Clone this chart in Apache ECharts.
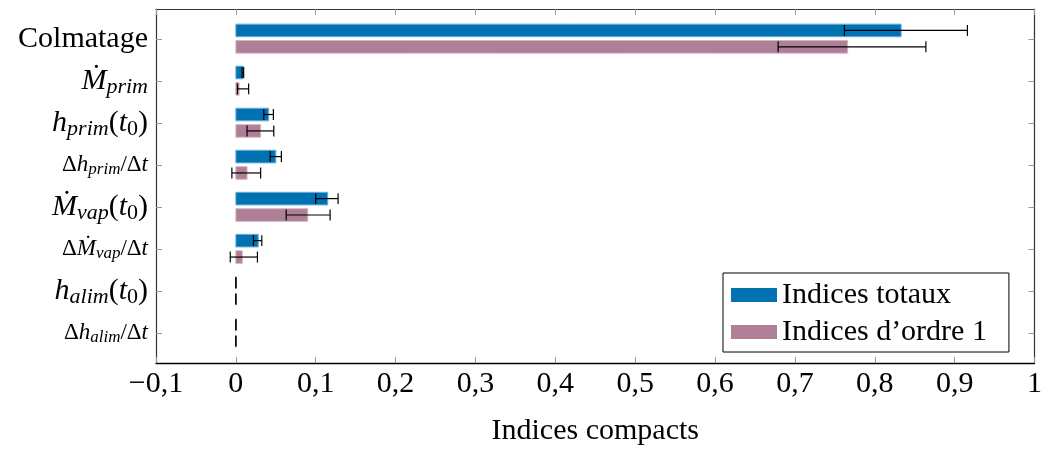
<!DOCTYPE html>
<html>
<head>
<meta charset="utf-8">
<script src="https://cdn.jsdelivr.net/npm/echarts@6/dist/echarts.min.js"></script>
<style>
  html, body { margin: 0; padding: 0; background: #fff; }
  #chart { width: 1045px; height: 451px; }
</style>
</head>
<body>
<div id="chart"></div>
<script>
// categories, top to bottom (rich-text labels)
var categories = [
  '{n|Colmatage}',
  '{i|Ṁ}{s|prim}',
  '{i|h}{s|prim}{n|(}{i|t}{z|0}{n|)}',
  '{sn|Δ}{si|h}{ss|prim}{sn|/Δ}{si|t}',
  '{i|Ṁ}{s|vap}{n|(}{i|t}{z|0}{n|)}',
  '{sn|Δ}{si|Ṁ}{ss|vap}{sn|/Δ}{si|t}',
  '{i|h}{s|alim}{n|(}{i|t}{z|0}{n|)}',
  '{sn|Δ}{si|h}{ss|alim}{sn|/Δ}{si|t}'
];
// indices totaux + intervalle
var totalIdx  = [0.833, 0.009,  0.041, 0.050, 0.115, 0.028,  0, 0];
var totalLow  = [0.762, 0.0078, 0.035, 0.043, 0.100, 0.022,  0, 0];
var totalHigh = [0.916, 0.0098, 0.047, 0.057, 0.128, 0.0325, 0, 0];
// indices d'ordre 1 + intervalle
var firstIdx  = [0.766, 0.004, 0.031,  0.014,  0.090, 0.008,  0, 0];
var firstLow  = [0.679, 0.002, 0.014,  -0.005, 0.063, -0.007, 0, 0];
var firstHigh = [0.864, 0.016, 0.0475, 0.031,  0.118, 0.027,  0, 0];

var FONT = '"Liberation Serif", "DejaVu Serif", serif';

function makeRender(offset, fill, stroke) {
  return function (params, api) {
    var cat = api.value(0);
    var unit = api.size([0, 1])[1];
    var base = api.coord([0, cat]);
    var yc = base[1] + offset * unit;
    var x1 = api.coord([api.value(1), cat])[0];
    var xl = api.coord([api.value(2), cat])[0];
    var xh = api.coord([api.value(3), cat])[0];
    var h = 0.3 * unit;
    var c = 0.13 * unit;
    var ls = { stroke: '#000', lineWidth: 1.2 };
    return {
      type: 'group',
      children: [
        { type: 'rect', shape: { x: base[0], y: yc - h / 2, width: x1 - base[0], height: h },
          style: { fill: fill, stroke: stroke, lineWidth: 1 } },
        { type: 'line', shape: { x1: xl, y1: yc, x2: xh, y2: yc }, style: ls },
        { type: 'line', shape: { x1: xl, y1: yc - c, x2: xl, y2: yc + c }, style: ls },
        { type: 'line', shape: { x1: xh, y1: yc - c, x2: xh, y2: yc + c }, style: ls }
      ]
    };
  };
}

function fmtX(v) {
  var r = Math.round(v * 10) / 10;
  var s = Math.abs(r).toString().replace('.', ',');
  return (r < 0 ? '\u2212' : '') + s;
}

var yCommon = {
  type: 'value', inverse: true, min: -0.71, max: 7.71,
  splitLine: { show: false },
  axisLine: { show: true, onZero: false, lineStyle: { color: '#333', width: 1.2 } },
  axisTick: { show: true, inside: true, length: 6, lineStyle: { color: '#999' },
              customValues: [0, 1, 2, 3, 4, 5, 6, 7] }
};

var myChart = echarts.init(document.getElementById('chart'));
myChart.setOption({
  animation: false,
  grid: { left: 156, right: 9, top: 9, bottom: 87 },
  legend: {
    left: 723, top: 273, orient: 'vertical',
    icon: 'rect', itemWidth: 46, itemHeight: 14, itemGap: 7,
    borderColor: '#000', borderWidth: 1, backgroundColor: '#fff',
    padding: [7, 22, 5, 8],
    textStyle: { fontFamily: FONT, fontSize: 30, color: '#000' },
    data: ['Indices totaux', 'Indices d\u2019ordre 1']
  },
  xAxis: [{
    type: 'value', min: -0.1, max: 1, interval: 0.1, position: 'bottom',
    name: 'Indices compacts', nameLocation: 'middle', nameGap: 53,
    nameTextStyle: { fontFamily: FONT, fontSize: 30, color: '#000' },
    splitLine: { show: false },
    axisLine: { show: true, onZero: false, lineStyle: { color: '#000', width: 1.3 } },
    axisTick: { inside: true, length: 6, lineStyle: { color: '#999' } },
    axisLabel: { fontFamily: FONT, fontSize: 30, color: '#000', margin: 6, formatter: fmtX }
  }, {
    type: 'value', min: -0.1, max: 1, interval: 0.1, position: 'top',
    splitLine: { show: false },
    axisLine: { show: true, onZero: false, lineStyle: { color: '#333', width: 1.2 } },
    axisTick: { inside: true, length: 6, lineStyle: { color: '#999' } },
    axisLabel: { show: false }
  }],
  yAxis: [Object.assign({}, yCommon, {
    position: 'left',
    axisLabel: {
      customValues: [0, 1, 2, 3, 4, 5, 6, 7], margin: 8, color: '#000',
      formatter: function (v) { return categories[v]; },
      rich: {
        n: { fontFamily: FONT, fontSize: 30, lineHeight: 34, color: '#000' },
        i: { fontFamily: FONT, fontSize: 30, lineHeight: 34, fontStyle: 'italic', color: '#000' },
        s: { fontFamily: FONT, fontSize: 22, lineHeight: 20, fontStyle: 'italic', verticalAlign: 'bottom', color: '#000' },
        z: { fontFamily: FONT, fontSize: 22, lineHeight: 20, verticalAlign: 'bottom', color: '#000' },
        sn: { fontFamily: FONT, fontSize: 23, lineHeight: 26, color: '#000' },
        si: { fontFamily: FONT, fontSize: 23, lineHeight: 26, fontStyle: 'italic', color: '#000' },
        ss: { fontFamily: FONT, fontSize: 17, lineHeight: 15, fontStyle: 'italic', verticalAlign: 'bottom', color: '#000' }
      }
    }
  }), Object.assign({}, yCommon, {
    position: 'right',
    axisLabel: { show: false }
  })],
  series: [{
    name: 'Indices totaux', type: 'custom',
    xAxisIndex: 0, yAxisIndex: 0,
    itemStyle: { color: '#0072b2' },
    renderItem: makeRender(-0.2, '#0072b2', '#6aaed8'),
    encode: { x: [1, 2, 3], y: 0 },
    data: totalIdx.map(function (v, i) { return [i, v, totalLow[i], totalHigh[i]]; })
  }, {
    name: 'Indices d\u2019ordre 1', type: 'custom',
    xAxisIndex: 0, yAxisIndex: 0,
    itemStyle: { color: '#ae7f96' },
    renderItem: makeRender(0.19, '#ae7f96', '#d2b5c3'),
    encode: { x: [1, 2, 3], y: 0 },
    data: firstIdx.map(function (v, i) { return [i, v, firstLow[i], firstHigh[i]]; })
  }]
});
</script>
</body>
</html>
